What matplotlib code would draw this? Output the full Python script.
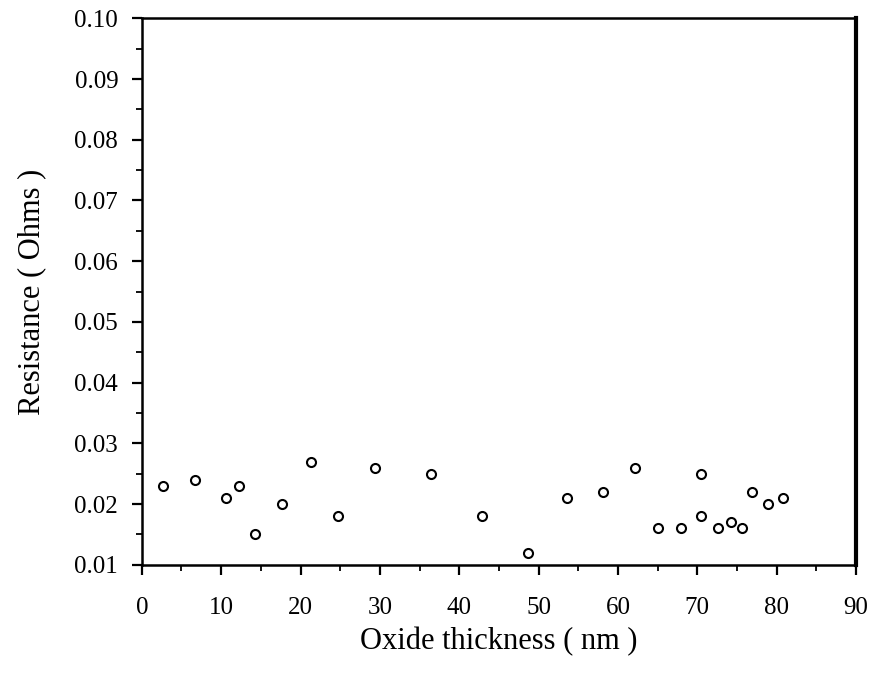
import matplotlib
matplotlib.use('Agg')
import matplotlib.pyplot as plt
from matplotlib.ticker import MultipleLocator, FormatStrFormatter

# oxide thickness (nm) and resistance (Ohms)
thickness = [2.7, 6.7, 10.6, 12.2, 14.3, 17.7, 21.3, 24.7, 29.4, 36.5, 42.9,
             48.6, 53.6, 58.1, 62.1, 65.1, 68.0, 70.4, 70.4, 72.6, 74.2,
             75.6, 76.9, 78.9, 80.8]
resistance = [0.023, 0.024, 0.021, 0.023, 0.015, 0.020, 0.027, 0.018, 0.026,
              0.025, 0.018, 0.012, 0.021, 0.022, 0.026, 0.016, 0.016, 0.025,
              0.018, 0.016, 0.017, 0.016, 0.022, 0.020, 0.021]

plt.rcParams['font.family'] = ['Liberation Serif', 'DejaVu Serif']

fig = plt.figure(figsize=(8.7, 6.78), dpi=100)
ax = fig.add_axes([0.163, 0.167, 0.821, 0.806])

ax.plot(thickness, resistance, 'o', markerfacecolor='white',
        markeredgecolor='black', markersize=6.5, markeredgewidth=1.5)

ax.set_xlim(0, 90)
ax.set_ylim(0.01, 0.10)
ax.xaxis.set_major_locator(MultipleLocator(10))
ax.xaxis.set_minor_locator(MultipleLocator(5))
ax.yaxis.set_major_locator(MultipleLocator(0.01))
ax.yaxis.set_minor_locator(MultipleLocator(0.005))
ax.yaxis.set_major_formatter(FormatStrFormatter('%.2f'))

ax.tick_params(which='major', direction='out', length=7, width=1.6,
               labelsize=18)
ax.tick_params(axis='x', which='major', pad=16)
ax.tick_params(axis='y', which='major', pad=10)
ax.tick_params(which='minor', direction='out', length=4, width=1.3)

for side in ['left', 'bottom', 'top']:
    ax.spines[side].set_linewidth(1.8)
ax.spines['right'].set_linewidth(3.0)

ax.set_xlabel('Oxide thickness ( nm )', fontsize=22, labelpad=6)
ax.set_ylabel('Resistance ( Ohms )', fontsize=22, labelpad=20)

fig.savefig('out.png', dpi=100)
